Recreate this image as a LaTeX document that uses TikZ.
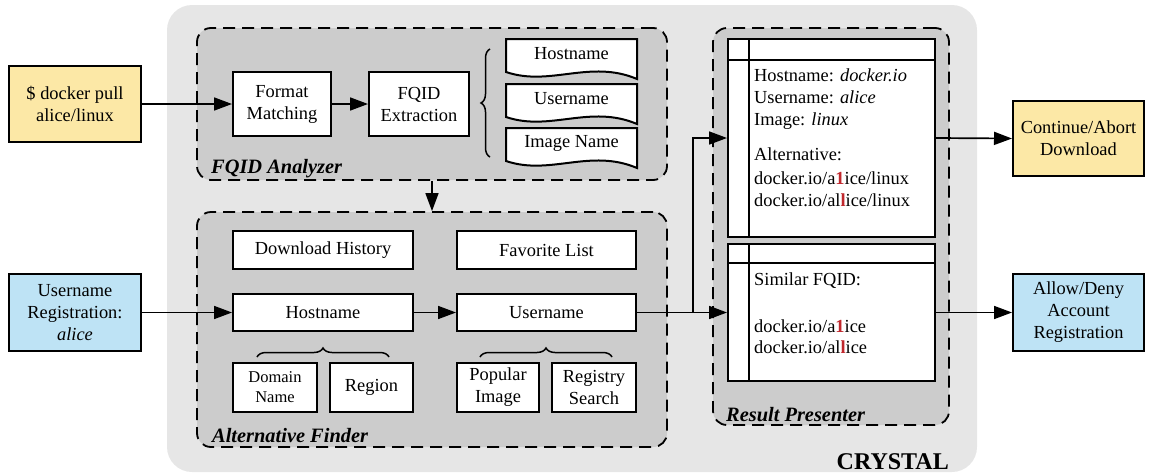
\documentclass[tikz,border=0pt]{standalone}
\usepackage{fontspec}
\setmainfont{Liberation Serif}
\usetikzlibrary{arrows.meta,decorations.pathreplacing,calc}
\definecolor{outerg}{HTML}{E6E6E6}
\definecolor{innerg}{HTML}{CCCCCC}
\definecolor{yel}{HTML}{FCE8A6}
\definecolor{blu}{HTML}{BEE3F5}
\definecolor{redd}{HTML}{C0282D}
\newcommand{\rd}[1]{\textcolor{redd}{\textbf{#1}}}
\begin{document}
\begin{tikzpicture}[x=1pt,y=-1pt,
  txt/.style={font=\fontsize{18.4}{22}\selectfont},
  box/.style={draw=black, line width=2pt, fill=white, inner sep=0pt, align=center, txt},
  arr/.style={line width=1.7pt, -{Triangle[length=18pt,width=13pt]}},
  wire/.style={line width=1.7pt},
  grp/.style={draw=black, line width=1.8pt, dash pattern=on 12pt off 7pt, fill=innerg, rounded corners=14pt, inner sep=0pt},
  lbl/.style={font=\fontsize{20.4}{24}\selectfont\bfseries\itshape, anchor=base west, inner sep=0pt},
  rtxt/.style={txt, anchor=base west, inner sep=0pt},
  brc/.style={line width=1.5pt, decorate, decoration={brace, amplitude=9pt}},
  docshape/.style={draw=black, line width=2pt, fill=white}]
\useasboundingbox (0,0) rectangle (1149,474);
% outer CRYSTAL
\node[fill=outerg, rounded corners=25pt, minimum width=810, minimum height=467, inner sep=0pt] (crystal) at (572,238.5) {};
\node[font=\fontsize{24}{28}\selectfont\bfseries, anchor=base east, inner sep=0pt] (crystallbl) at (949,469) {CRYSTAL};
% groups
\node[grp, minimum width=470, minimum height=152] (fqa) at (432,104) {};
\node[grp, minimum width=470, minimum height=235] (alt) at (432,329.5) {};
\node[grp, minimum width=236, minimum height=397] (res) at (831,226.5) {};
\node[lbl] (fqalbl) at (211,173) {FQID Analyzer};
\node[lbl] (altlbl) at (212,442) {Alternative Finder};
\node[lbl] (reslbl) at (726,421) {Result Presenter};
% inputs / outputs
\node[box, fill=yel, minimum width=132, minimum height=76] (docker) at (75,104) {\$ docker pull\\alice/linux};
\node[box, fill=blu, minimum width=132, minimum height=77] (ureg) at (75,312.5) {Username\\Registration:\\\textit{alice}};
\node[box, fill=yel, minimum width=131, minimum height=75] (cont) at (1078.5,138.5) {Continue/Abort\\Download};
\node[box, fill=blu, minimum width=131, minimum height=77] (allow) at (1078.5,312.5) {Allow/Deny\\Account\\Registration};
% FQID analyzer content
\node[box, minimum width=98, minimum height=64] (fm) at (282,104) {Format\\Matching};
\node[box, minimum width=100, minimum height=64] (fe) at (419,104) {FQID\\Extraction};
\draw[brc] (490,157) -- (490,49);
\foreach \t/\lab/\nm in {39/Hostname/dh, 84/Username/du, 128/Image Name/di}{
  \draw[docshape] (506,\t) -- (637,\t) -- (637,\t+40) .. controls (590,\t+20) and (550,\t+48) .. (506,\t+33) -- cycle;
  \node[txt, inner sep=0pt] (\nm) at (571.5,\t+15) {\lab};
}
% Alternative finder content
\node[box, minimum width=180, minimum height=38] (dlh) at (323,250) {Download History};
\node[box, minimum width=179, minimum height=38] (fav) at (546.5,250) {Favorite List};
\node[box, minimum width=180, minimum height=37] (host) at (323,312.5) {Hostname};
\node[box, minimum width=179, minimum height=37] (usr) at (546.5,312.5) {Username};
\node[box, minimum width=84, minimum height=49, font=\fontsize{16.5}{20}\selectfont] (dom) at (275,387.5) {Domain\\Name};
\node[box, minimum width=83, minimum height=49] (reg) at (371.5,387.5) {Region};
\node[box, minimum width=82, minimum height=49] (pop) at (498,387.5) {Popular\\Image};
\node[box, minimum width=84, minimum height=49] (rs) at (594,387.5) {Registry\\Search};
\draw[brc] (257,357) -- (389,357);
\draw[brc] (480,357) -- (612,357);
% Result presenter tables
\node[draw=black, line width=2pt, fill=white, minimum width=207, minimum height=198, inner sep=0pt] (res1) at (831.5,138) {};
\draw[line width=2pt] (728,60) -- (935,60);
\draw[line width=2pt] (749,39) -- (749,237);
\node[rtxt] (r1a) at (754,81) {Hostname: \textit{docker.io}};
\node[rtxt] (r1b) at (754,103) {Username: \textit{alice}};
\node[rtxt] (r1c) at (754,125) {Image: \textit{linux}};
\node[rtxt] (r1d) at (754,160) {Alternative:};
\node[rtxt] (r1e) at (754,184) {docker.io/a\rd{1}ice/linux};
\node[rtxt] (r1f) at (754,206) {docker.io/al\rd{l}ice/linux};
\node[draw=black, line width=2pt, fill=white, minimum width=207, minimum height=137, inner sep=0pt] (res2) at (831.5,312.5) {};
\draw[line width=2pt] (728,263) -- (935,263);
\draw[line width=2pt] (749,244) -- (749,381);
\node[rtxt] (r2a) at (754,285) {Similar FQID:};
\node[rtxt] (r2b) at (754,332) {docker.io/a\rd{1}ice};
\node[rtxt] (r2c) at (754,353) {docker.io/al\rd{l}ice};
% connectors
\draw[arr] (docker.east) -- (fm.west);
\draw[arr] (fm.east) -- (fe.west);
\draw[arr] (fqa.south) -- (alt.north);
\draw[arr] (ureg.east) -- (host.west);
\draw[arr] (host.east) -- (usr.west);
\coordinate (j) at (693,312.5);
\draw[wire] (usr.east) -- (j);
\draw[arr] (j) -- (res2.west);
\draw[arr] (j) |- (res1.west);
\draw[arr] (res1.east) -- (cont.west);
\draw[arr] (res2.east) -- (allow.west);
\end{tikzpicture}
\end{document}
